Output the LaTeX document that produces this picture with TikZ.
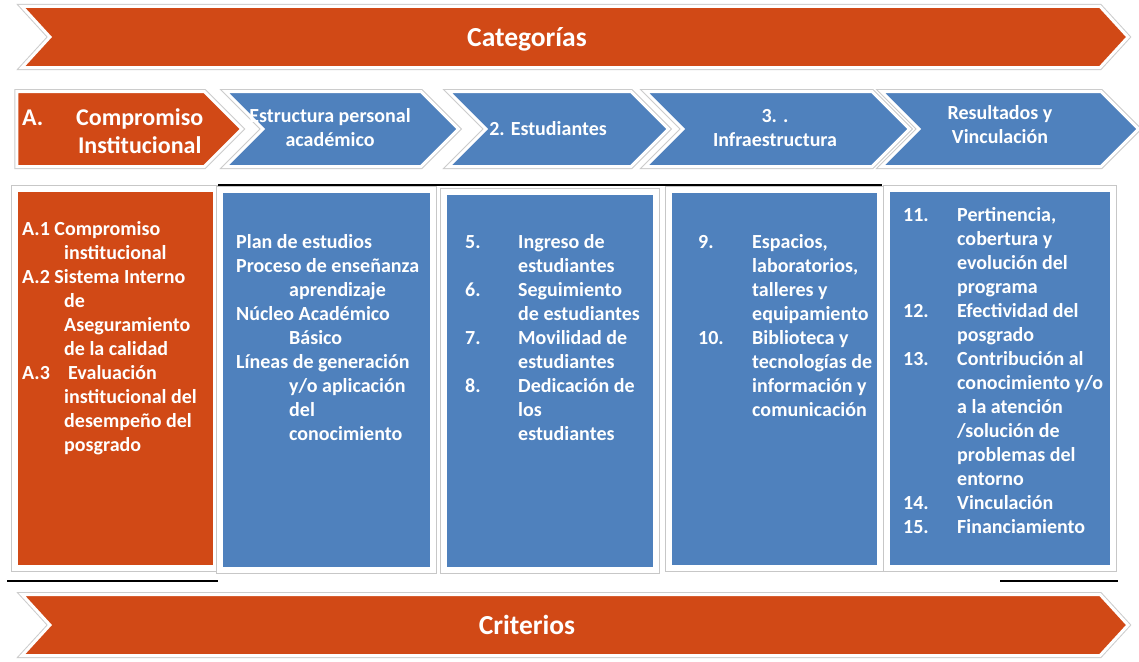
\documentclass[tikz,border=0pt]{standalone}
\usepackage{fontspec}
\setmainfont{Carlito}
\usetikzlibrary{shapes.symbols}

\definecolor{critorange}{RGB}{209,73,22}
\definecolor{critblue}{RGB}{79,129,189}

% indentation helpers for the hanging lists
\newcommand{\colitem}[2][54pt]{\makebox[#1][l]{#2}}
\newcommand{\colind}[1][54pt]{\hspace*{#1}}

\tikzset{
  rim/.style={draw=white, line width=3pt, preaction={draw=black!20, line width=5pt}},
  band/.style={signal, signal from=west, signal to=east, signal pointer angle=95,
    minimum width=1106, minimum height=61, fill=critorange, rim, inner sep=0pt},
  chev/.style={signal, signal to=east, signal pointer angle=90,
    minimum height=75, fill=critblue, rim, inner sep=0pt},
  colbox/.style={rectangle, fill=critblue, draw=white, line width=6pt,
    preaction={draw=black!22, line width=8pt}, inner sep=0pt},
  lab/.style={text=white, inner sep=0pt, anchor=base},
  coltext/.style={text=white, inner sep=0pt, anchor=base west,
    font=\fontsize{20}{24}\selectfont\bfseries},
}

\begin{document}
\begin{tikzpicture}[x=1pt, y=-1pt]
\useasboundingbox (0,0) rectangle (1139,661);
\fill[white] (0,0) rectangle (1139,661);

% column boxes
\node[colbox, fill=critorange, minimum width=201, minimum height=379] (colA) at (115.5,378.5) {};
\node[colbox, minimum width=213, minimum height=380] (col1) at (326.5,380) {};
\node[colbox, minimum width=212, minimum height=378] (col2) at (550,381) {};
\node[colbox, minimum width=211, minimum height=378] (col3) at (774.5,379) {};
\node[colbox, minimum width=226, minimum height=379] (col4) at (1000,378.5) {};

% dark edges of the frame
\draw[black, line width=1.5pt] (218,185) -- (882,185);
\draw[black, line width=1.5pt] (7,581) -- (218,581);
\draw[black, line width=1.5pt] (1000,581) -- (1118,581);

% banners
\node[band] (cat) at (575,37) {};
\node[band] (crit) at (575,625) {};

% chevron row, right to left
\node[chev, signal from=west, minimum width=257] (ch4) at (1010,129) {};
\node[chev, signal from=west, minimum width=264] (ch3) at (777.5,129) {};
\node[chev, signal from=west, minimum width=220] (ch2) at (558.5,129) {};
\node[chev, signal from=west, minimum width=233] (ch1) at (342,129) {};
\node[chev, fill=critorange, minimum width=225] (chA) at (110.5,129) {};

% banner labels
\node[lab, font=\fontsize{27.5}{33}\selectfont\bfseries] (tcat) at (527,46) {Categorías};
\node[lab, font=\fontsize{27.5}{33}\selectfont\bfseries] (tcrit) at (527,634) {Criterios};

% chevron labels
\node[lab, anchor=base west, font=\fontsize{24}{28.8}\selectfont\bfseries] (tA) at (22,125)
  {\begin{tabular}[t]{@{}p{54pt}@{}c@{}}A. & Compromiso\\ & Institucional\end{tabular}};
\node[lab, font=\fontsize{20}{24}\selectfont\bfseries] (t1) at (330,122)
  {\begin{tabular}[t]{@{}c@{}}Estructura personal\\académico\end{tabular}};
\node[lab, font=\fontsize{20}{24}\selectfont\bfseries] (t2) at (548,135) {2. Estudiantes};
\node[lab, font=\fontsize{20}{24}\selectfont\bfseries] (t3) at (775,122)
  {\begin{tabular}[t]{@{}c@{}}3. .\\Infraestructura\end{tabular}};
\node[lab, font=\fontsize{20}{24}\selectfont\bfseries] (t4) at (1000,119)
  {\begin{tabular}[t]{@{}c@{}}Resultados y\\Vinculación\end{tabular}};

% column texts
\node[coltext] (xA) at (22,235) {\begin{tabular}[t]{@{}l@{}}
  A.1 Compromiso\\
  \colind[42pt]institucional\\
  A.2 Sistema Interno\\
  \colind[42pt]de\\
  \colind[42pt]Aseguramiento\\
  \colind[42pt]de la calidad\\
  \colitem[46pt]{A.3}Evaluación\\
  \colind[42pt]institucional del\\
  \colind[42pt]desempeño del\\
  \colind[42pt]posgrado
\end{tabular}};
\node[coltext] (x1) at (236,248) {\begin{tabular}[t]{@{}l@{}}
  Plan de estudios\\
  Proceso de enseñanza\\
  \colind[53pt]aprendizaje\\
  Núcleo Académico\\
  \colind[53pt]Básico\\
  Líneas de generación\\
  \colind[53pt]y/o aplicación\\
  \colind[53pt]del\\
  \colind[53pt]conocimiento
\end{tabular}};
\node[coltext] (x2) at (465,248) {\begin{tabular}[t]{@{}l@{}}
  \colitem[53pt]{5.}Ingreso de\\
  \colind[53pt]estudiantes\\
  \colitem[53pt]{6.}Seguimiento\\
  \colind[53pt]de estudiantes\\
  \colitem[53pt]{7.}Movilidad de\\
  \colind[53pt]estudiantes\\
  \colitem[53pt]{8.}Dedicación de\\
  \colind[53pt]los\\
  \colind[53pt]estudiantes
\end{tabular}};
\node[coltext] (x3) at (698,248) {\begin{tabular}[t]{@{}l@{}}
  \colitem{9.}Espacios,\\
  \colind laboratorios,\\
  \colind talleres y\\
  \colind equipamiento\\
  \colitem{10.}Biblioteca y\\
  \colind tecnologías de\\
  \colind información y\\
  \colind comunicación
\end{tabular}};
\node[coltext] (x4) at (903,221) {\begin{tabular}[t]{@{}l@{}}
  \colitem{11.}Pertinencia,\\
  \colind cobertura y\\
  \colind evolución del\\
  \colind programa\\
  \colitem{12.}Efectividad del\\
  \colind posgrado\\
  \colitem{13.}Contribución al\\
  \colind conocimiento y/o\\
  \colind a la atención\\
  \colind /solución de\\
  \colind problemas del\\
  \colind entorno\\
  \colitem{14.}Vinculación\\
  \colitem{15.}Financiamiento
\end{tabular}};
\end{tikzpicture}
\end{document}
